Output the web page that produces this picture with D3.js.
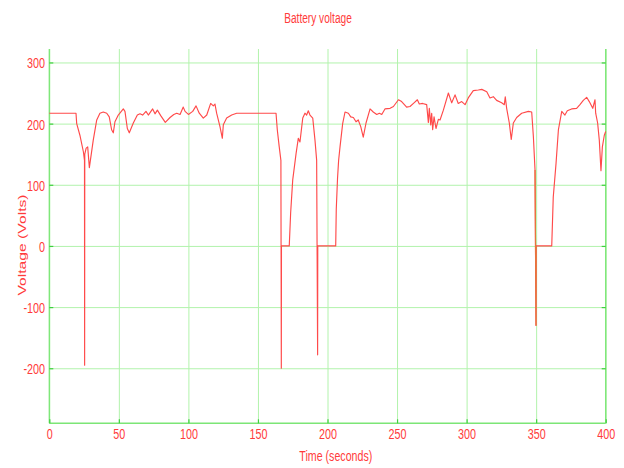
<!DOCTYPE html>
<html>
<head>
<meta charset="utf-8">
<script src="https://cdn.jsdelivr.net/npm/d3@7"></script>
<style>
  html, body { margin: 0; padding: 0; background: #ffffff; }
  svg { display: block; }
  text { font-family: "Liberation Sans", Arial, sans-serif; fill: #ff3b3b; }
</style>
</head>
<body>
<svg id="chart" width="624" height="468"></svg>
<script>
// Battery voltage trace: time (s) and voltage (V)
const timeSec = [
  0, 19.2, 19.7, 22, 24.5, 25.3, 25.4, 25.5, 26.5, 27.6, 28.8, 31.6, 34.1, 36.4, 38.8,
  41.3, 43.1, 44.8, 46, 47.2, 49.6, 53.2, 54.4, 56.1, 57.5, 60.4, 63.3, 65.2, 67.1, 69.5,
  71.2, 74.3, 76, 77.7, 80.1, 83.4, 86.8, 89.5, 91.6, 94, 96.3, 97.6, 100, 103.1, 105.5,
  107.8, 110.7, 113.2, 116, 117.9, 119.1, 120.3, 122.7, 124.4, 125.1, 127.5, 131.1, 134.7, 163,
  163.9, 165.3, 166.5, 166.8, 166.9, 172.5, 173.5, 175, 177.4, 179, 180.2, 182.2, 183.8, 185,
  186.2, 187.4, 189.4, 191, 192.2, 192.9, 193, 205.9, 206.3, 207.2, 208, 209, 210.9, 212.6,
  215, 216.7, 218.6, 220.5, 222.1, 223.9, 225.7, 227.7, 230.6, 232.9, 235.4, 237.3, 239, 241.3,
  245, 247.4, 251, 253.3, 256.9, 259.3, 262.2, 264.6, 266, 268.4, 271.3, 272.5, 273.2, 274.2,
  274.9, 275.6, 276.6, 278, 279.7, 280.9, 283.3, 286.9, 289.3, 291.7, 294, 296.5, 298.9, 301.2,
  304.8, 308.4, 310.9, 314.5, 316.8, 319.2, 321.6, 325.2, 327.1, 327.8, 328.8, 330.7, 332.1, 333.6,
  336, 339.6, 344.4, 346.8, 348, 349.2, 349.9, 350, 361.2, 362.3, 364.3, 366, 368.4, 370.7,
  372.4, 375.5, 379.1, 381.5, 383.9, 386.3, 388.2, 390.7, 392.3, 392.8, 394.2, 395.4, 396.6, 397.6,
  399, 400
];
const voltage = [
  217, 217, 200, 181, 154, 140, -195, 150, 160, 162, 128, 173, 206, 217, 219,
  217, 211, 190, 185, 203, 214, 224, 220, 192, 185, 201, 214, 216, 214, 220,
  214, 224, 216, 222, 213, 202, 210, 215, 217, 215, 227, 220, 215, 220, 229,
  217, 209, 214, 233, 229, 232, 217, 195, 176, 198, 209, 214, 217, 217,
  190, 162, 140, -200, 0, 0, 54, 108, 151, 176, 170, 209, 217, 214,
  221, 214, 209, 173, 140, -178, 0, 0, 60, 110, 140, 162, 200, 219,
  217, 211, 210, 203, 206, 195, 178, 201, 224, 219, 215, 217, 215, 224,
  225, 228, 239, 236, 227, 228, 234, 239, 232, 233, 231, 202, 225, 198,
  217, 190, 211, 192, 207, 206, 222, 250, 234, 247, 233, 236, 231, 242,
  254, 255, 256, 252, 242, 244, 238, 234, 231, 244, 225, 201, 174, 201,
  210, 217, 220, 219, 179, 124, -130, 0, 0, 80, 135, 190, 220, 214,
  221, 224, 225, 231, 238, 243, 236, 225, 239, 217, 201, 173, 123, 162,
  181, 187
];
// Time window of the last drop-out, traced in a warmer tone
const dropoutWindow = [349.2, 350];
const xTicks = [0, 50, 100, 150, 200, 250, 300, 350, 400];
const yTicks = [-200, -100, 0, 100, 200, 300];
const titleText = "Battery voltage";
const xLabelText = "Time (seconds)";
const yLabelText = "Voltage (Volts)";

const svg = d3.select("#chart");
const plot = { left: 49.3, right: 605.7, top: 49, bottom: 423.3 };
const squeeze = 0.72;           // narrow lettering used for every label
const gridColor = "#b2f3ac";
const axisColor = "#7ce676";
const tickColor = "#3fcf3f";
const plainNumber = d => String(d);

const x = d3.scaleLinear().domain([0, 400]).range([plot.left, plot.right]);
const y = d3.scaleLinear().domain([-290, 322]).range([plot.bottom, plot.top]);

// Grid lines
const gx = svg.append("g")
  .attr("transform", `translate(0,${plot.bottom})`)
  .call(d3.axisBottom(x).tickValues(xTicks).tickSize(-(plot.bottom - plot.top)).tickFormat(""));
gx.select(".domain").remove();
gx.selectAll(".tick line").attr("stroke", gridColor).attr("stroke-width", 1);

const gy = svg.append("g")
  .attr("transform", `translate(${plot.left},0)`)
  .call(d3.axisLeft(y).tickValues(yTicks).tickSize(-(plot.right - plot.left)).tickFormat(""));
gy.select(".domain").remove();
gy.selectAll(".tick line").attr("stroke", gridColor).attr("stroke-width", 1);

// Frame: left, bottom and right axis lines
svg.append("line").attr("x1", plot.left).attr("x2", plot.left)
  .attr("y1", plot.top).attr("y2", plot.bottom)
  .attr("stroke", axisColor).attr("stroke-width", 1.3);
svg.append("line").attr("x1", plot.right).attr("x2", plot.right)
  .attr("y1", plot.top).attr("y2", plot.bottom)
  .attr("stroke", axisColor).attr("stroke-width", 1.3);
svg.append("line").attr("x1", plot.left).attr("x2", plot.right)
  .attr("y1", plot.bottom).attr("y2", plot.bottom)
  .attr("stroke", axisColor).attr("stroke-width", 1.6);

// Bottom axis: inward ticks and labels
const ax = svg.append("g")
  .attr("transform", `translate(0,${plot.bottom})`)
  .call(d3.axisBottom(x).tickValues(xTicks).tickSizeInner(-4).tickSizeOuter(0).tickFormat(plainNumber));
ax.select(".domain").remove();
ax.selectAll(".tick line").attr("stroke", tickColor).attr("stroke-width", 1.2);
ax.selectAll(".tick text")
  .attr("y", 15.3).attr("dy", null)
  .attr("transform", `scale(${squeeze},1)`)
  .style("font-size", "15px").attr("fill", "#ff3b3b");

// Left axis: inward ticks and labels
const ay = svg.append("g")
  .attr("transform", `translate(${plot.left},0)`)
  .call(d3.axisLeft(y).tickValues(yTicks).tickSizeInner(-4).tickSizeOuter(0).tickFormat(plainNumber));
ay.select(".domain").remove();
ay.selectAll(".tick line").attr("stroke", tickColor).attr("stroke-width", 1.2);
ay.selectAll(".tick text")
  .attr("x", -4.3 / squeeze).attr("dy", "0.36em")
  .attr("transform", `scale(${squeeze},1)`)
  .style("font-size", "15px").attr("fill", "#ff3b3b");

// Right axis: inward ticks only
const ar = svg.append("g")
  .attr("transform", `translate(${plot.right},0)`)
  .call(d3.axisRight(y).tickValues(yTicks).tickSizeInner(-4).tickSizeOuter(0).tickFormat(""));
ar.select(".domain").remove();
ar.selectAll(".tick line").attr("stroke", tickColor).attr("stroke-width", 1.2);

// Voltage trace
const series = timeSec.map((t, i) => ({ t, v: voltage[i] }));
const line = d3.line().x(d => x(d.t)).y(d => y(d.v));
svg.append("path")
  .datum(series)
  .attr("fill", "none")
  .attr("stroke", "#ff4a4a")
  .attr("stroke-width", 1.15)
  .attr("stroke-linejoin", "round")
  .attr("d", line);

svg.append("path")
  .datum(series.filter(d => d.t >= dropoutWindow[0] && d.t <= dropoutWindow[1]))
  .attr("fill", "none")
  .attr("stroke", "#e8743c")
  .attr("stroke-width", 1.2)
  .attr("d", line);

// Title and axis labels
svg.append("text")
  .attr("transform", `translate(318,23) scale(0.7,1)`)
  .attr("text-anchor", "middle")
  .style("font-size", "14.5px")
  .text(titleText);

svg.append("text")
  .attr("transform", `translate(335.8,461) scale(0.71,1)`)
  .attr("text-anchor", "middle")
  .style("font-size", "15px")
  .text(xLabelText);

svg.append("text")
  .attr("transform", `translate(25.5,245) rotate(-90) scale(1,0.69)`)
  .attr("text-anchor", "middle")
  .style("font-size", "15.7px")
  .text(yLabelText);
</script>
</body>
</html>
